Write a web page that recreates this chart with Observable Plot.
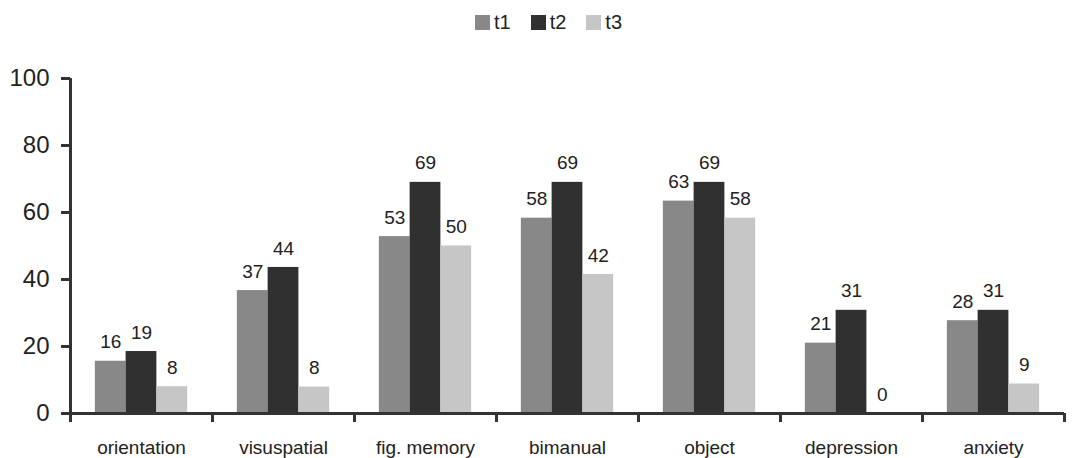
<!DOCTYPE html>
<html>
<head>
<meta charset="utf-8">
<script src="https://cdn.jsdelivr.net/npm/d3@7"></script>
<script src="https://cdn.jsdelivr.net/npm/@observablehq/plot@0.6"></script>
<style>
  html, body { margin: 0; padding: 0; background: #fff; }
  #legend { height: 45px; display: flex; justify-content: center; align-items: flex-start; padding-left: 24px; box-sizing: border-box;
    font-family: "Liberation Sans", Arial, sans-serif; font-size: 20px; color: #222; }
  .item { display: flex; align-items: center; margin: 0 10px; height: 15px; margin-top: 15px; }
  .sw { width: 15px; height: 15px; margin-right: 4px; }
</style>
</head>
<body>
<div id="legend"></div>
<div id="chart"></div>
<script>
const categories = ["orientation", "visuspatial", "fig. memory", "bimanual", "object", "depression", "anxiety"];
const series = ["t1", "t2", "t3"];
const t1 = [15.6, 36.7, 52.8, 58.3, 63.4, 21.0, 27.7];
const t2 = [18.5, 43.6, 69.0, 69.0, 69.0, 30.8, 30.8];
const t3 = [8.0, 7.9, 50.0, 41.5, 58.3, 0, 8.8];
const colors = ["#888888", "#303030", "#c6c6c6"];
const yTicks = [0, 20, 40, 60, 80, 100];

const values = {t1, t2, t3};
const rows = categories.flatMap((c, i) => series.map((s, j) => ({category: c, series: s, i, j, value: values[s][i]})));

const pad = 0.175;               // group side padding (fraction of a group)
const w = (1 - 2 * pad) / series.length;  // bar width (fraction of a group)

// legend
const legend = document.getElementById("legend");
series.forEach((s, k) => {
  const it = document.createElement("div");
  it.className = "item";
  it.innerHTML = `<span class="sw" style="background:${colors[k]}"></span><span>${s}</span>`;
  legend.appendChild(it);
});

const chart = Plot.plot({
  width: 1073,
  height: 413,
  marginTop: 33,
  marginBottom: 45,
  marginLeft: 70,
  marginRight: 9,
  style: {fontFamily: "'Liberation Sans', Arial, sans-serif", background: "white", color: "#222"},
  x: {domain: [0, categories.length], label: null},
  y: {domain: [0, 100], label: null},
  color: {domain: series, range: colors},
  marks: [
    Plot.rectY(rows, {
      x1: d => d.i + pad + d.j * w,
      x2: d => d.i + pad + (d.j + 1) * w,
      y: "value",
      fill: "series"
    }),
    Plot.text(rows, {
      x: d => d.i + pad + (d.j + 0.5) * w,
      y: "value",
      text: d => String(Math.round(d.value)),
      dy: -19,
      fontSize: 19,
      fill: "#222"
    }),
    Plot.ruleY([0], {stroke: "#333", strokeWidth: 3, insetLeft: -7}),
    Plot.ruleX([0], {y1: 0, y2: 100, stroke: "#333", strokeWidth: 3}),
    Plot.axisY({ticks: yTicks, tickSize: 9, tickPadding: 12, fontSize: 24, stroke: "#333", strokeWidth: 3, fill: "#222"}),
    Plot.axisX({ticks: d3.range(categories.length + 1), tickSize: 9, tickFormat: () => "", stroke: "#333", strokeWidth: 3}),
    Plot.axisX({
      ticks: d3.range(categories.length).map(i => i + 0.5),
      tickSize: 0,
      tickPadding: 27,
      tickFormat: t => categories[Math.floor(t)],
      fontSize: 19,
      fill: "#222"
    })
  ]
});
document.getElementById("chart").appendChild(chart);
</script>
</body>
</html>
